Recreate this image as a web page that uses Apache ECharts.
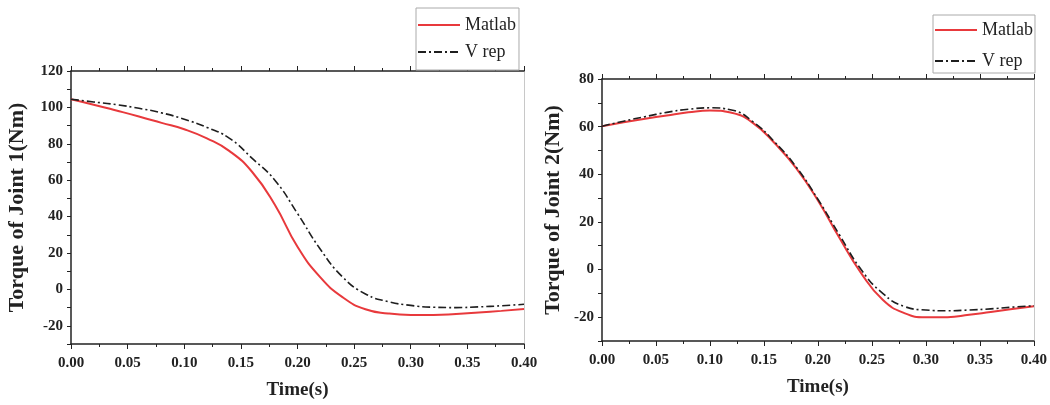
<!DOCTYPE html>
<html>
<head>
<meta charset="utf-8">
<script src="https://cdn.jsdelivr.net/npm/echarts@6/dist/echarts.min.js"></script>
<style>
    html, body { margin: 0; padding: 0; background: #fff; }
    #main { width: 1050px; height: 405px; }
</style>
</head>
<body>
<div id="main"></div>
<script>
var time = [0, 0.02, 0.04, 0.06, 0.08, 0.10, 0.12, 0.14, 0.16, 0.18, 0.20,
    0.22, 0.24, 0.26, 0.28, 0.30, 0.32, 0.34, 0.36, 0.38, 0.40];

// joint 1
var matlab1 = [104.5, 101.5, 98.3, 95, 91.5, 88, 83, 76, 64.5, 46.5, 23.4,
    6.7, -4.4, -10.9, -13.2, -14, -14, -13.5, -12.7, -11.8, -10.8];
var vrep1 = [104.5, 103, 101.5, 99.5, 97, 93.5, 89, 83, 72, 60, 41.7,
    22.2, 6.7, -2.5, -6.7, -8.8, -9.8, -10, -9.6, -9, -8.2];

// joint 2
var matlab2 = [60.2, 61.8, 63.3, 64.7, 66, 66.8, 65.8, 61.5, 53, 42.5, 29,
    13.2, -1.5, -12.7, -18.3, -20, -20, -19, -17.8, -16.6, -15.4];
var vrep2 = [60.2, 62.3, 64.2, 66, 67.3, 67.9, 67, 62, 53.5, 43, 29.5,
    14.5, 0, -10, -15.5, -17, -17.3, -17, -16.5, -15.8, -15.2];

var FONT = 'Liberation Serif';

function pairs(vals) {
    return time.map(function (t, i) { return [t, vals[i]]; });
}

function xAxes(grid) {
    var base = {
        gridIndex: grid,
        type: 'value',
        min: 0,
        max: 0.4,
        interval: 0.05,
        splitLine: { show: false },
        axisLine: { onZero: false, lineStyle: { color: '#222', width: 1.5 } },
        axisTick: { length: 5, lineStyle: { color: '#222' } },
        minorTick: { show: true, splitNumber: 2, length: 3, lineStyle: { color: '#222' } }
    };
    var bottom = Object.assign({}, base, {
        position: 'bottom',
        name: 'Time(s)',
        nameLocation: 'middle',
        nameGap: 37,
        nameTextStyle: { fontFamily: FONT, fontWeight: 'bold', fontSize: 19, color: '#222' },
        axisLabel: {
            margin: 12,
            fontFamily: FONT, fontWeight: 'bold', fontSize: 15, color: '#222',
            formatter: function (v) { return v.toFixed(2); }
        }
    });
    var top = Object.assign({}, base, {
        position: 'top',
        axisLabel: { show: false }
    });
    return [bottom, top];
}

function yAxes(grid, min, max, title, gap, size) {
    var left = {
        gridIndex: grid,
        type: 'value',
        position: 'left',
        min: min,
        max: max,
        interval: 10,
        name: title,
        nameLocation: 'middle',
        nameGap: gap,
        nameRotate: 90,
        nameTextStyle: { fontFamily: FONT, fontWeight: 'bold', fontSize: size, color: '#222' },
        splitLine: { show: false },
        axisLine: { onZero: false, lineStyle: { color: '#222', width: 1.5 } },
        axisTick: { length: 4, lineStyle: { color: '#222' } },
        axisLabel: {
            margin: 8,
            fontFamily: FONT, fontWeight: 'bold', fontSize: 15, color: '#222',
            formatter: function (v) { return v % 20 === 0 ? String(v) : ''; }
        }
    };
    var right = {
        gridIndex: grid,
        type: 'value',
        position: 'right',
        min: min,
        max: max,
        splitLine: { show: false },
        axisLine: { show: true, onZero: false, lineStyle: { color: '#c8c8c8', width: 1 } },
        axisTick: { show: false },
        axisLabel: { show: false }
    };
    return [left, right];
}

function redLine(name, x, y, vals) {
    return {
        name: name, type: 'line', xAxisIndex: x, yAxisIndex: y,
        data: pairs(vals), smooth: true, showSymbol: false, symbol: 'none',
        color: '#e8393c',
        lineStyle: { color: '#e8393c', width: 2 },
        z: 2
    };
}

function blackLine(name, x, y, vals) {
    return {
        name: name, type: 'line', xAxisIndex: x, yAxisIndex: y,
        data: pairs(vals), smooth: true, showSymbol: false, symbol: 'none',
        color: '#1e1e1e',
        lineStyle: { color: '#1e1e1e', width: 1.6, type: [8, 3, 2, 3] },
        z: 3
    };
}

function legendBox(left, top, gap, pad) {
    return {
        data: ['Matlab', 'V rep'],
        orient: 'vertical',
        left: left,
        top: top,
        itemWidth: 42,
        itemHeight: 18,
        itemGap: gap,
        padding: pad,
        borderColor: '#aaa',
        borderWidth: 1,
        backgroundColor: '#fff',
        itemStyle: { opacity: 0 },
        textStyle: { fontFamily: FONT, fontSize: 18, color: '#222' }
    };
}

var myChart = echarts.init(document.getElementById('main'));
myChart.setOption({
    animation: false,
    backgroundColor: '#fff',
    grid: [
        { left: 71, top: 71, width: 453, height: 274 },
        { left: 602, top: 79, width: 432, height: 262 }
    ],
    legend: [
        legendBox(416, 8, 9, [8, 3, 9, 1]),
        legendBox(933, 15, 13, [6, 2, 3, 1])
    ],
    xAxis: xAxes(0).concat(xAxes(1)),
    yAxis: yAxes(0, -30, 120, 'Torque of Joint 1(Nm)', 43, 22)
        .concat(yAxes(1, -30, 80, 'Torque of Joint 2(Nm)', 38, 22)),
    series: [
        redLine('Matlab', 0, 0, matlab1),
        blackLine('V rep', 0, 0, vrep1),
        redLine('Matlab', 2, 2, matlab2),
        blackLine('V rep', 2, 2, vrep2)
    ]
});
</script>
</body>
</html>
